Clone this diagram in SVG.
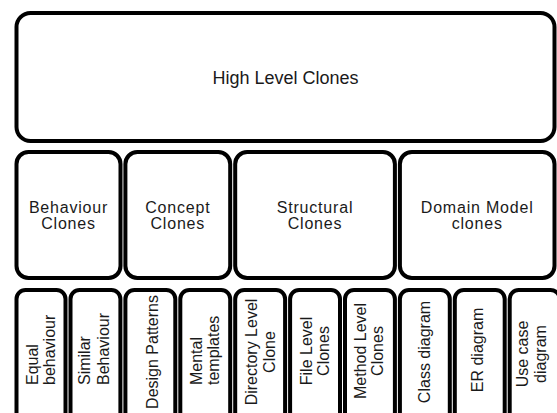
<svg xmlns="http://www.w3.org/2000/svg" width="557" height="413" viewBox="0 0 557 413">
<style>
.box{fill:#fff;stroke:#000;stroke-width:4}
.t{font-family:"Liberation Sans",Arial,sans-serif;fill:#1a1a1a}
.big{font-size:18px;text-anchor:middle}
.mid{font-size:16px;letter-spacing:0.8px;text-anchor:middle}
.sm{font-size:16px}
.c{text-anchor:middle}
.s{text-anchor:start}
</style>
<rect width="557" height="413" fill="#fff"/>
<g id="high-level-clones">
<rect class="box" x="16.5" y="13" width="538" height="128" rx="14"/>
<text class="t big" x="285.5" y="83.5">High Level Clones</text>
</g>
<g id="behaviour-clones">
<rect class="box" x="16.5" y="152" width="104" height="126" rx="12"/>
<text class="t mid" x="68.5" y="212.5">Behaviour</text>
<text class="t mid" x="68.5" y="229">Clones</text>
</g>
<g id="concept-clones">
<rect class="box" x="125.4" y="152" width="104.8" height="126" rx="12"/>
<text class="t mid" x="177.8" y="212.5">Concept</text>
<text class="t mid" x="177.8" y="229">Clones</text>
</g>
<g id="structural-clones">
<rect class="box" x="235.2" y="152" width="159.7" height="126" rx="12"/>
<text class="t mid" x="315" y="212.5">Structural</text>
<text class="t mid" x="315" y="229">Clones</text>
</g>
<g id="domain-model-clones">
<rect class="box" x="399.9" y="152" width="154.6" height="126" rx="12"/>
<text class="t mid" x="477.2" y="212.5">Domain Model</text>
<text class="t mid" x="477.2" y="229">clones</text>
</g>
<g id="equal-behaviour">
<rect class="box" x="16.5" y="290" width="49" height="140" rx="9"/>
<text class="t sm s" transform="translate(37.5,385) rotate(-90)">Equal</text>
<text class="t sm s" transform="translate(54.5,385) rotate(-90)">behaviour</text>
</g>
<g id="similar-behaviour">
<rect class="box" x="70.5" y="290" width="49.9" height="140" rx="9"/>
<text class="t sm s" transform="translate(90,385) rotate(-90)">Similar</text>
<text class="t sm s" transform="translate(109,385) rotate(-90)">Behaviour</text>
</g>
<g id="design-patterns">
<rect class="box" x="125.4" y="290" width="49.9" height="140" rx="9"/>
<text class="t sm c" transform="translate(157.5,352) rotate(-90)">Design Patterns</text>
</g>
<g id="mental-templates">
<rect class="box" x="180.3" y="290" width="49.9" height="140" rx="9"/>
<text class="t sm s" transform="translate(202,385) rotate(-90)">Mental</text>
<text class="t sm s" transform="translate(219,385) rotate(-90)">templates</text>
</g>
<g id="directory-level-clone">
<rect class="box" x="235.2" y="290" width="49.9" height="140" rx="9"/>
<text class="t sm c" transform="translate(257,352) rotate(-90)">Directory Level</text>
<text class="t sm c" transform="translate(274.5,352) rotate(-90)">Clone</text>
</g>
<g id="file-level-clones">
<rect class="box" x="290.1" y="290" width="49.9" height="140" rx="9"/>
<text class="t sm c" transform="translate(311.5,351) rotate(-90)">File Level</text>
<text class="t sm c" transform="translate(328.5,351) rotate(-90)">Clones</text>
</g>
<g id="method-level-clones">
<rect class="box" x="345" y="290" width="49.9" height="140" rx="9"/>
<text class="t sm c" transform="translate(365.5,351) rotate(-90)">Method Level</text>
<text class="t sm c" transform="translate(382.5,351) rotate(-90)">Clones</text>
</g>
<g id="class-diagram">
<rect class="box" x="399.9" y="290" width="49.9" height="140" rx="9"/>
<text class="t sm c" transform="translate(429.5,352) rotate(-90)">Class diagram</text>
</g>
<g id="er-diagram">
<rect class="box" x="454.8" y="290" width="49.9" height="140" rx="9"/>
<text class="t sm c" transform="translate(483,350) rotate(-90)">ER diagram</text>
</g>
<g id="use-case-diagram">
<rect class="box" x="509.7" y="290" width="49.9" height="140" rx="9"/>
<text class="t sm c" transform="translate(528,354) rotate(-90)">Use case</text>
<text class="t sm c" transform="translate(545.5,354) rotate(-90)">diagram</text>
</g>
<g id="connectors"></g>
</svg>
